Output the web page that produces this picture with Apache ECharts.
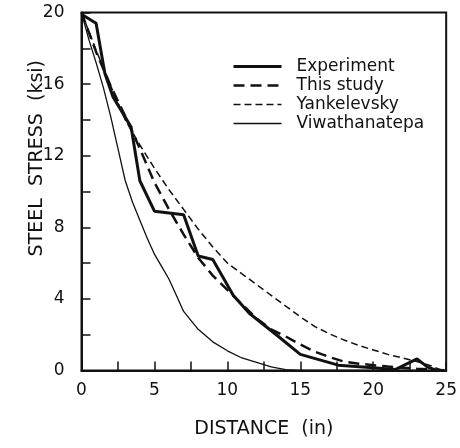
<!DOCTYPE html>
<html>
<head>
<meta charset="utf-8">
<script src="https://cdn.jsdelivr.net/npm/echarts@6/dist/echarts.min.js"></script>
<style>
  html, body { margin: 0; padding: 0; background: #fff; }
  #chart { width: 460px; height: 448px; }
</style>
</head>
<body>
<div id="chart"></div>
<script>
// distances (in) and steel stress (ksi)
const experimentX = [0, 1, 1.6, 2.15, 3.4, 4, 5, 7, 8, 9, 10.4, 11.5, 13.5, 15, 17.6, 20, 21.5, 23, 23.7, 24.3]
const experimentY = [19.9, 19.4, 16.6, 15.3, 13.6, 10.6, 8.9, 8.7, 6.4, 6.2, 4.2, 3.2, 1.9, 0.9, 0.3, 0.15, 0.05, 0.65, 0.2, 0.02]

const studyX = [0, 1, 2, 3, 4, 5, 6, 7, 8, 9, 10, 11, 12, 13, 14, 15, 16, 17, 18, 19, 20, 21, 22, 23, 24, 25]
const studyY = [20, 17.8, 15.9, 14.2, 12.4, 10.5, 9.0, 7.6, 6.3, 5.3, 4.5, 3.7, 2.9, 2.3, 1.9, 1.45, 1.05, 0.75, 0.5, 0.38, 0.3, 0.22, 0.15, 0.1, 0.05, 0]

const yankX = [0, 1, 2, 3, 4, 5, 6, 7, 8, 9, 10, 11, 12, 13, 14, 15, 16, 17, 18, 19, 20, 21, 22, 23, 24, 24.6]
const yankY = [20, 17.9, 15.9, 14.0, 12.6, 11.3, 10.1, 9.0, 7.9, 6.9, 6.0, 5.4, 4.8, 4.2, 3.6, 3.0, 2.45, 2.05, 1.7, 1.4, 1.15, 0.9, 0.7, 0.5, 0.25, 0.05]

const viwaX = [0, 0.5, 1, 1.5, 2, 2.5, 3, 3.5, 4, 4.5, 5, 5.5, 6, 6.5, 7, 7.5, 8, 9, 10, 11, 12, 13, 14, 15, 25]
const viwaY = [20, 18.5, 17.2, 15.8, 14.2, 12.4, 10.6, 9.4, 8.4, 7.4, 6.5, 5.8, 5.1, 4.2, 3.3, 2.8, 2.3, 1.6, 1.1, 0.7, 0.45, 0.2, 0.05, 0, 0]

const seriesNames = ['Experiment', 'This study', 'Yankelevsky', 'Viwathanatepa']
const xTickLabels = [0, 5, 10, 15, 20, 25]
const yTickLabels = [0, 4, 8, 12, 16, 20]

const pairs = (xs, ys) => xs.map((x, i) => [x, ys[i]])

const FONT = 'DejaVu Sans'
const chart = echarts.init(document.getElementById('chart'), null, { renderer: 'canvas' })

// line width and dash for each series, in legend order
const styles = [
  { width: 3, type: 'solid' },
  { width: 2.5, type: [11, 6] },
  { width: 1.5, type: [7, 4] },
  { width: 1.3, type: 'solid' }
]

const lineSeries = (i, xs, ys) => ({
  name: seriesNames[i],
  type: 'line',
  symbol: 'none',
  smooth: false,
  animation: false,
  itemStyle: { color: '#111' },
  lineStyle: { color: '#111', width: styles[i].width, type: styles[i].type },
  data: pairs(xs, ys)
})

chart.setOption({
  backgroundColor: '#fff',
  animation: false,
  grid: {
    left: 81.5,
    right: 12,
    top: 12.5,
    bottom: 77.5,
    show: true,
    borderColor: '#111',
    borderWidth: 2,
    backgroundColor: 'transparent'
  },
  legend: {
    orient: 'vertical',
    left: 227,
    top: 52,
    itemWidth: 48,
    itemHeight: 19,
    itemGap: 0,
    itemStyle: { opacity: 0 },
    textStyle: {
      fontFamily: FONT,
      fontSize: 17,
      color: '#111',
      lineHeight: 19,
      padding: [0, 0, 0, 10]
    },
    data: seriesNames.map((name, i) => ({
      name: name,
      lineStyle: { color: '#111', width: styles[i].width, type: styles[i].type }
    }))
  },
  graphic: [{
    type: 'text',
    left: 28,
    top: 60,
    rotation: Math.PI / 2,
    style: {
      text: 'STEEL  STRESS  (ksi)',
      font: '19px "DejaVu Sans"',
      fill: '#111'
    }
  }],
  xAxis: {
    type: 'value',
    min: 0,
    max: 25,
    interval: 2.5,
    name: 'DISTANCE  (in)',
    nameLocation: 'middle',
    nameGap: 49,
    nameTextStyle: { fontFamily: FONT, fontSize: 19, color: '#111' },
    axisLine: { show: true, lineStyle: { color: '#111', width: 2 } },
    axisTick: { show: true, inside: true, length: 9, lineStyle: { color: '#111', width: 1.5 } },
    axisLabel: {
      fontFamily: FONT,
      fontSize: 17,
      color: '#111',
      margin: 12,
      formatter: v => (xTickLabels.indexOf(v) >= 0 ? String(v) : '')
    },
    splitLine: { show: false }
  },
  yAxis: {
    type: 'value',
    min: 0,
    max: 20,
    interval: 2,
    axisLine: { show: true, lineStyle: { color: '#111', width: 2 } },
    axisTick: { show: true, inside: true, length: 9, lineStyle: { color: '#111', width: 1.5 } },
    axisLabel: {
      fontFamily: FONT,
      fontSize: 17,
      color: '#111',
      margin: 17,
      formatter: v => (yTickLabels.indexOf(v) >= 0 ? String(v) : '')
    },
    splitLine: { show: false }
  },
  series: [
    lineSeries(0, experimentX, experimentY),
    lineSeries(1, studyX, studyY),
    lineSeries(2, yankX, yankY),
    lineSeries(3, viwaX, viwaY)
  ]
})
</script>
</body>
</html>
